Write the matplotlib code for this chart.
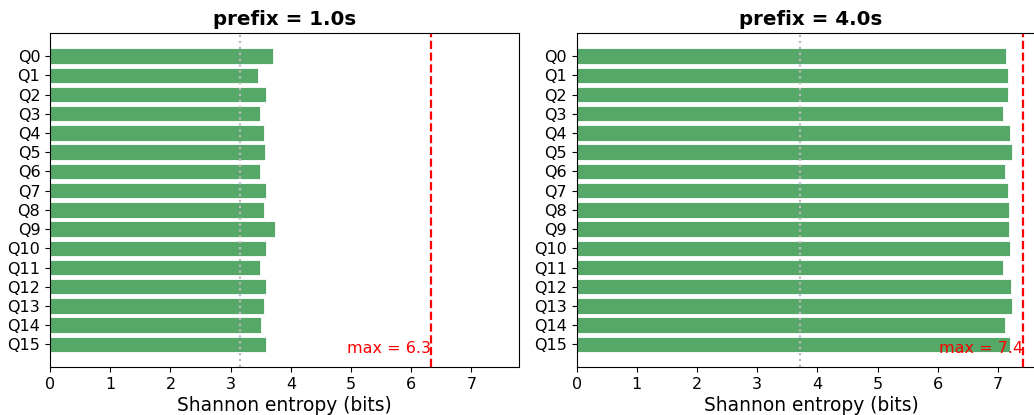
import matplotlib
matplotlib.use("Agg")
import matplotlib.pyplot as plt
import numpy as np

# Per-question Shannon entropy of answers at two prefix lengths
questions = [f"Q{i}" for i in range(16)]
entropy_1s = [3.70, 3.45, 3.59, 3.49, 3.55, 3.57, 3.48, 3.59,
              3.56, 3.74, 3.58, 3.48, 3.58, 3.55, 3.50, 3.58]
entropy_4s = [7.14, 7.17, 7.16, 7.09, 7.19, 7.23, 7.11, 7.16,
              7.18, 7.18, 7.20, 7.09, 7.21, 7.23, 7.11, 7.20]
max_entropy = [6.32, 7.42]
prefixes = ["1.0s", "4.0s"]
panels = [entropy_1s, entropy_4s]

bar_color = "#55a868"

fig = plt.figure(figsize=(10.34, 4.15), dpi=100)
ax_l = fig.add_axes([0.0484, 0.115, 0.4536, 0.805])
ax_r = fig.add_axes([0.5577, 0.115, 0.4536, 0.805], sharex=ax_l)
axes = [ax_l, ax_r]

y = np.arange(len(questions))
for ax, vals, mx, pref in zip(axes, panels, max_entropy, prefixes):
    ax.barh(y, vals, height=0.8, color=bar_color, edgecolor="white", linewidth=0.6)
    ax.axvline(mx, color="red", linestyle="--", linewidth=1.6)
    ax.axvline(mx / 2, color="#bbbbbb", linestyle=":", linewidth=1.6)
    ax.set_yticks(y)
    ax.set_yticklabels(questions, fontsize=11.5)
    ax.invert_yaxis()
    ax.text(mx, 15.6, f"max = {mx:.1f}", color="red", fontsize=11.5,
            ha="right", va="bottom")
    ax.set_title(f"prefix = {pref}", fontsize=14.3, fontweight="bold")
    ax.set_xlabel("Shannon entropy (bits)", fontsize=13.4, labelpad=3)
    ax.tick_params(axis="x", labelsize=11.5)
    ax.set_xticks(range(8))

ax_l.set_xlim(0, 1.05 * max(max_entropy))

fig.savefig("out.png", dpi=100)
